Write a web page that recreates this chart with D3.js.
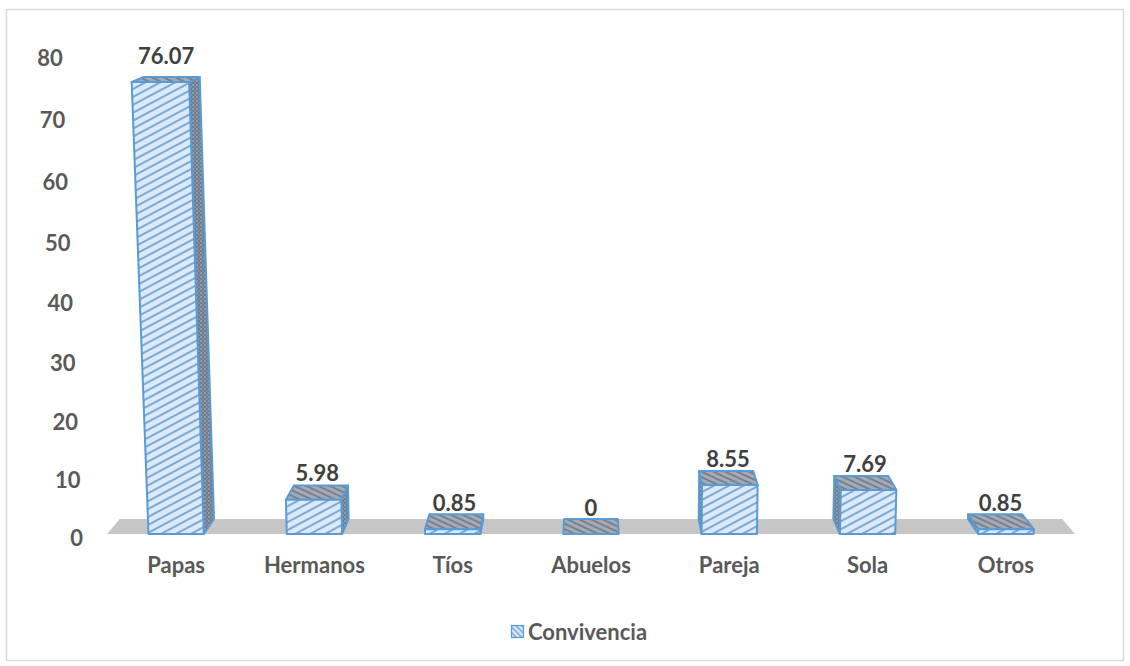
<!DOCTYPE html>
<html>
<head>
<meta charset="utf-8">
<script src="https://cdn.jsdelivr.net/npm/d3@7"></script>
<style>
  html, body { margin: 0; padding: 0; background: #ffffff; }
  svg { display: block; font-family: Lato, "Open Sans", sans-serif; }
</style>
</head>
<body>
<svg id="chart" width="1130" height="666"></svg>
<script>
// Data
const categories = ["Papas", "Hermanos", "Tíos", "Abuelos", "Pareja", "Sola", "Otros"];
const values = [76.07, 5.98, 0.85, 0, 8.55, 7.69, 0.85];
const yTicks = [0, 10, 20, 30, 40, 50, 60, 70, 80];
const seriesName = "Convivencia";

const svg = d3.select("#chart");

// Outer frame
svg.append("rect")
  .attr("x", 6.5).attr("y", 9.5)
  .attr("width", 1117).attr("height", 651)
  .attr("fill", "#ffffff")
  .attr("stroke", "#d9d9d9").attr("stroke-width", 1.5);

// Patterns for the faces of the 3D columns
const defs = svg.append("defs");

const pFront = defs.append("pattern")
  .attr("id", "hatchFront").attr("patternUnits", "userSpaceOnUse")
  .attr("width", 7).attr("height", 7)
  .attr("patternTransform", "rotate(-28)");
pFront.append("rect").attr("width", 7).attr("height", 7).attr("fill", "#dde9f6");
pFront.append("line").attr("x1", 0).attr("y1", 1).attr("x2", 7).attr("y2", 1)
  .attr("stroke", "#5b9bd5").attr("stroke-width", 1.6);

const pTop = defs.append("pattern")
  .attr("id", "hatchTop").attr("patternUnits", "userSpaceOnUse")
  .attr("width", 5).attr("height", 5)
  .attr("patternTransform", "rotate(25)");
pTop.append("rect").attr("width", 5).attr("height", 5).attr("fill", "#a3acb6");
pTop.append("line").attr("x1", 0).attr("y1", 1).attr("x2", 5).attr("y2", 1)
  .attr("stroke", "#66707c").attr("stroke-width", 1.4);

const pSide = defs.append("pattern")
  .attr("id", "hatchSide").attr("patternUnits", "userSpaceOnUse")
  .attr("width", 4).attr("height", 4);
pSide.append("rect").attr("width", 4).attr("height", 4).attr("fill", "#6f7c8c");
pSide.append("circle").attr("cx", 1).attr("cy", 1).attr("r", 0.8).attr("fill", "#b7c3d1");
pSide.append("circle").attr("cx", 3).attr("cy", 3).attr("r", 0.8).attr("fill", "#94a2b3");

const pLegend = defs.append("pattern")
  .attr("id", "hatchLegend").attr("patternUnits", "userSpaceOnUse")
  .attr("width", 4).attr("height", 4)
  .attr("patternTransform", "rotate(45)");
pLegend.append("rect").attr("width", 4).attr("height", 4).attr("fill", "#dde9f6");
pLegend.append("line").attr("x1", 0).attr("y1", 1).attr("x2", 4).attr("y2", 1)
  .attr("stroke", "#5b9bd5").attr("stroke-width", 1.3);

// Scales
const x = d3.scaleBand()
  .domain(categories)
  .range([107, 1075])
  .paddingInner(0.6)
  .paddingOuter(0.3);

const y = d3.scaleLinear().domain([0, 80]).range([0, 456.3]);

// Perspective projection of the chart box
const floorY = 534;
const vx = (x.range()[0] + x.range()[1]) / 2;
const vy = -143;
const lean = 8.4e-5;          // vertical edges converge downward
const persp = 9.22e-5;        // upper values are slightly stretched
const depthX = 0.0264, depthY = 0.0222;

const heightPx = v => { const u = y(v); return u / (1 - persp * u); };
const front = (X, h) => [vx + (X - vx) * (1 + lean * h), floorY - h];
const back = p => [p[0] + depthX * (vx - p[0]), p[1] + depthY * (vy - p[1])];
const poly = pts => "M" + pts.map(p => p[0].toFixed(2) + "," + p[1].toFixed(2)).join("L") + "Z";

// Floor
const fl = front(x.range()[0], 0), fr = front(x.range()[1], 0);
svg.append("path")
  .attr("d", poly([fl, fr, back(fr), back(fl)]))
  .attr("fill", "#c6c6c6");

// Value axis labels
svg.append("g").selectAll("text")
  .data(yTicks)
  .join("text")
  .attr("x", d => front(83, heightPx(d))[0])
  .attr("y", d => { const h = heightPx(d); return floorY - h + 4 - h * 0.007; })
  .attr("dy", "0.35em")
  .attr("text-anchor", "end")
  .attr("font-size", 22).attr("font-weight", 700)
  .attr("fill", "#595959")
  .text(d => d);

// Columns
const bars = svg.append("g");
categories.forEach((c, i) => {
  const v = values[i];
  const h = heightPx(v);
  const x0 = x(c), x1 = x0 + x.bandwidth();
  const bl = front(x0, 0), br = front(x1, 0), tl = front(x0, h), tr = front(x1, h);
  const g = bars.append("g")
    .attr("stroke", "#5b9bd5").attr("stroke-width", 2).attr("stroke-linejoin", "round");

  // side face: toward the centre of the chart
  const cx = (x0 + x1) / 2;
  if (cx < vx - 1) {
    g.append("path").attr("d", poly([br, tr, back(tr), back(br)])).attr("fill", "url(#hatchSide)");
  } else if (cx > vx + 1) {
    g.append("path").attr("d", poly([bl, tl, back(tl), back(bl)])).attr("fill", "url(#hatchSide)");
  }
  // top face
  g.append("path").attr("d", poly([tl, tr, back(tr), back(tl)])).attr("fill", "url(#hatchTop)");
  // front face
  if (h > 0.5) {
    g.append("path").attr("d", poly([bl, br, tr, tl])).attr("fill", "url(#hatchFront)");
  }

  // value label
  const topMid = (tl[0] + tr[0] + back(tl)[0] + back(tr)[0]) / 4;
  svg.append("text")
    .attr("x", topMid)
    .attr("y", tl[1] - 26)
    .attr("dy", "0.35em")
    .attr("text-anchor", "middle")
    .attr("font-size", 22).attr("font-weight", 700)
    .attr("fill", "#404040")
    .text(v);

  // category label
  svg.append("text")
    .attr("x", x(c) + x.bandwidth() / 2)
    .attr("y", 565)
    .attr("dy", "0.35em")
    .attr("text-anchor", "middle")
    .attr("font-size", 22).attr("font-weight", 700)
    .attr("fill", "#595959")
    .text(c);
});

// Legend
const legend = svg.append("g").attr("transform", "translate(511,625)");
legend.append("rect")
  .attr("x", 0.5).attr("y", 0.5).attr("width", 12).attr("height", 12)
  .attr("fill", "url(#hatchLegend)")
  .attr("stroke", "#5b9bd5").attr("stroke-width", 1.2);
legend.append("text")
  .attr("x", 17).attr("y", 7)
  .attr("dy", "0.35em")
  .attr("font-size", 22).attr("font-weight", 700)
  .attr("fill", "#595959")
  .text(seriesName);
</script>
</body>
</html>
